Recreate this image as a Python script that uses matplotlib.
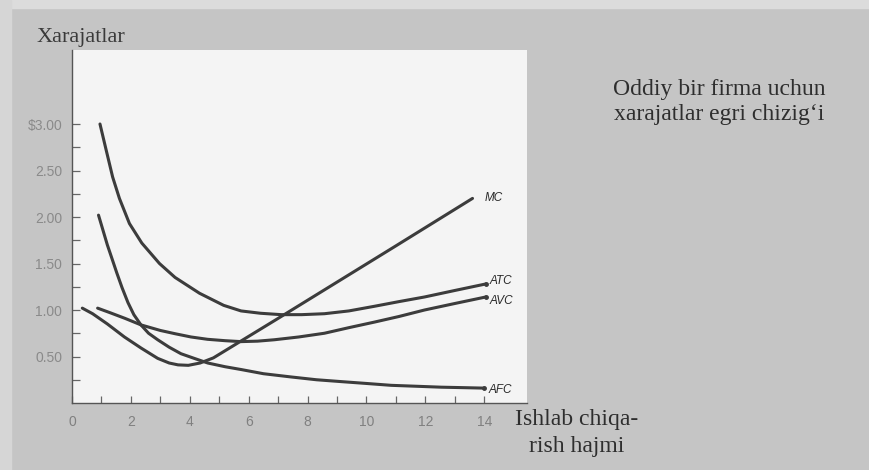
import numpy as np
import matplotlib.pyplot as plt
from matplotlib.patches import Rectangle

# Cost curves of a single firm (quantity, cost per unit)
mc_q = [0.35, 0.7, 1.2, 1.78, 2.35, 2.91, 3.3, 3.6, 3.95, 4.35, 4.8, 7.0, 9.0, 11.0, 13.6]
mc_c = [1.02, 0.96, 0.85, 0.71, 0.59, 0.48, 0.43, 0.41, 0.405, 0.43, 0.485, 0.91, 1.30, 1.69, 2.20]

atc_q = [0.95, 1.16, 1.38, 1.61, 1.95, 2.37, 2.97, 3.5, 4.33, 5.15, 5.74, 6.4, 7.1,
         7.8, 8.57, 9.4, 10.27, 11.1, 11.97, 13.0, 14.05]
atc_c = [3.00, 2.72, 2.43, 2.20, 1.93, 1.72, 1.50, 1.35, 1.18, 1.05, 0.99, 0.965, 0.95,
         0.95, 0.96, 0.99, 1.04, 1.09, 1.14, 1.21, 1.28]

avc_q = [0.87, 1.3, 1.8, 2.34, 3.0, 3.5, 4.04, 4.6, 5.2, 5.74, 6.3, 6.87, 7.7, 8.57,
         9.4, 10.27, 11.1, 11.97, 13.0, 14.05]
avc_c = [1.02, 0.97, 0.91, 0.84, 0.78, 0.745, 0.71, 0.685, 0.67, 0.66, 0.665, 0.68, 0.71, 0.75,
         0.81, 0.87, 0.93, 1.00, 1.07, 1.14]

afc_q = [0.9, 1.05, 1.2, 1.35, 1.52, 1.7, 1.9, 2.1, 2.34, 2.6, 2.91, 3.3, 3.7, 4.15,
         4.61, 5.2, 5.74, 6.5, 7.44, 8.3, 9.14, 10.0, 10.84, 11.7, 12.54, 13.3, 14.0]
afc_c = [2.02, 1.86, 1.70, 1.56, 1.40, 1.24, 1.08, 0.95, 0.84, 0.75, 0.68, 0.60, 0.53, 0.48,
         0.43, 0.39, 0.36, 0.315, 0.28, 0.25, 0.23, 0.21, 0.19, 0.18, 0.17, 0.165, 0.16]

curve_names = ['MC', 'ATC', 'AVC', 'AFC']

x_ticks = list(range(0, 15))
x_tick_labels = [str(v) if v % 2 == 0 else '' for v in x_ticks]
y_ticks = [0.25 * k for k in range(1, 13)]
y_tick_labels = ['', '0.50', '', '1.00', '', '1.50', '', '2.00', '', '2.50', '', '$3.00']

line_color = '#3c3c3c'
sans = ['Liberation Sans', 'DejaVu Sans']
serif = ['Liberation Serif', 'DejaVu Serif']

fig = plt.figure(figsize=(8.7, 4.7), dpi=100, facecolor='#c5c5c5')
# lighter paper edge along top and left
fig.patches.append(Rectangle((0, 0.983), 1, 0.017, transform=fig.transFigure,
                             color='#dcdcdc', zorder=0))
fig.patches.append(Rectangle((0, 0), 0.013, 1, transform=fig.transFigure,
                             color='#d6d6d6', zorder=0))

ax = fig.add_axes([72 / 870, 67 / 470, 455 / 870, 353.4 / 470])
ax.set_facecolor('#f4f4f4')

curves = [(mc_q, mc_c), (atc_q, atc_c), (avc_q, avc_c), (afc_q, afc_c)]
label_offsets = {'MC': (9, 0), 'ATC': (3, 2), 'AVC': (3, -3), 'AFC': (3, -1)}
for name, (q, c) in zip(curve_names, curves):
    ax.plot(q, c, color=line_color, lw=2.2, solid_capstyle='round',
            solid_joinstyle='round')
    if name != 'MC':
        ax.plot(q[-1], c[-1], 'o', color=line_color, ms=2.5)
    ax.annotate(name, (q[-1], c[-1]), xytext=label_offsets[name],
                textcoords='offset points', ha='left', va='center',
                fontsize=8.5, style='italic', family=sans, color='#2a2a2a')

ax.set_xlim(0, 15.45)
ax.set_ylim(0, 3.8)

ax.spines['top'].set_visible(False)
ax.spines['right'].set_visible(False)
for s in ['left', 'bottom']:
    ax.spines[s].set_color('#555555')
    ax.spines[s].set_linewidth(1.0)

ax.set_xticks(x_ticks)
ax.set_xticklabels(x_tick_labels, family=sans, fontsize=10, color='#808080')
ax.set_yticks(y_ticks)
ax.set_yticklabels(y_tick_labels, family=sans, fontsize=10, color='#8a8a8a')
ax.tick_params(axis='x', direction='in', length=5, width=0.9, color='#666666', pad=9)
ax.tick_params(axis='y', direction='in', length=6, width=0.9, color='#666666', pad=7)

fig.text(37 / 870, 1 - 42 / 470, 'Xarajatlar', family=serif, fontsize=16,
         color='#3a3a3a', ha='left', va='baseline')

title_lines = ['Oddiy bir firma uchun', 'xarajatlar egri chizig\u2018i']
for i, line in enumerate(title_lines):
    fig.text(719 / 870, 1 - (95 + 25 * i) / 470, line, family=serif, fontsize=17,
             color='#2e2e2e', ha='center', va='baseline')

xlabel_lines = ['Ishlab chiqa-', 'rish hajmi']
for i, line in enumerate(xlabel_lines):
    fig.text(577 / 870, 1 - (425 + 27 * i) / 470, line, family=serif, fontsize=17,
             color='#2e2e2e', ha='center', va='baseline')

plt.savefig('out.png', dpi=100, facecolor=fig.get_facecolor())
